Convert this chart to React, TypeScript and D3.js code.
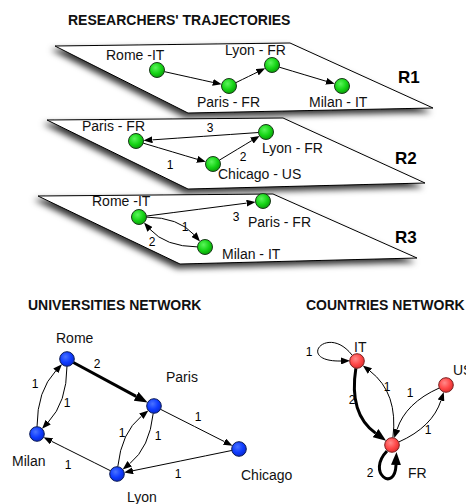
import React from "react";
import * as d3 from "d3";

// ---------- DATA ----------
const TITLE_TRAJ = "RESEARCHERS' TRAJECTORIES";
const TITLE_UNIV = "UNIVERSITIES NETWORK";
const TITLE_COUNTRY = "COUNTRIES NETWORK";

const LAYER_NAMES = ["R1", "R2", "R3"];

const R1_NODES = ["Rome -IT", "Paris - FR", "Lyon - FR", "Milan - IT"];
const R1_EDGES: [number, number, string, number][] = [
  [0, 1, "", 1],
  [1, 2, "", 1],
  [2, 3, "", 1],
];
const R2_NODES = ["Paris - FR", "Lyon - FR", "Chicago - US"];
const R2_EDGES: [number, number, string, number][] = [
  [1, 0, "3", 1],
  [0, 2, "1", 1],
  [2, 1, "2", 1],
];
const R3_NODES = ["Rome -IT", "Paris - FR", "Milan - IT"];
const R3_EDGES: [number, number, string, number][] = [
  [0, 1, "3", 1],
  [0, 2, "1", 1],
  [2, 0, "2", 1],
];

const UNIV_NODES = ["Rome", "Paris", "Milan", "Lyon", "Chicago"];
const UNIV_EDGES: [number, number, string, number][] = [
  [0, 1, "2", 2],
  [2, 0, "1", 1],
  [0, 2, "1", 1],
  [1, 4, "1", 1],
  [3, 1, "1", 1],
  [1, 3, "1", 1],
  [3, 2, "1", 1],
  [4, 3, "1", 1],
];

const COUNTRY_NODES = ["IT", "US", "FR"];
const COUNTRY_EDGES: [number, number, string, number][] = [
  [0, 0, "1", 1],
  [0, 2, "2", 2],
  [2, 0, "1", 1],
  [1, 2, "1", 1],
  [2, 1, "1", 1],
  [2, 2, "2", 2],
];

// ---------- LAYOUT ----------
const PLANES = [
  [[55, 46], [290, 43], [433, 108], [188, 113]],
  [[47, 120], [283, 118], [425, 183], [188, 189]],
  [[38, 196], [273, 194], [417, 258], [180, 264]],
];
const PLANE_TAG_POS = [[398, 83], [395, 164], [395, 243]];

const R1_POS = [[157, 70], [229, 86], [272, 65], [342, 86]];
const R1_LBL = [[106, 60], [197, 107], [225, 55], [309, 107]];
const R1_BEND = [0, 0, 0];
const R1_ELBL: number[][] = [[], [], []];

const R2_POS = [[136, 141], [266, 132], [213, 164]];
const R2_LBL = [[82, 131], [262, 153], [218, 179]];
const R2_BEND = [0, 0, 0];
const R2_ELBL = [[210, 128], [170, 165], [243, 157]];

const R3_POS = [[139, 217], [263, 201], [205, 247]];
const R3_LBL = [[92, 206], [248, 227], [222, 259]];
const R3_BEND = [0, -16, -16];
const R3_ELBL = [[236, 217], [185, 227], [152, 242]];

const UNIV_POS = [[67, 359], [154, 406], [37, 434], [117, 474], [239, 449]];
const UNIV_LBL = [[56, 343], [166, 382], [12, 466], [127, 502], [241, 480]];
const UNIV_BEND = [0, -16, -16, 0, -16, -16, 0, 0];
const UNIV_ELBL = [[97, 364], [35, 384], [67, 403], [198, 417], [122, 433], [158, 436], [68, 465], [178, 474]];

const COUNTRY_POS = [[357, 361], [446, 385], [392, 445]];
const COUNTRY_LBL = [[354, 352], [453, 375], [408, 478]];
const COUNTRY_BEND = [0, 28, 26, 18, 18, 0];
const COUNTRY_ELBL = [[309, 352], [352, 400], [387, 387], [410, 393], [428, 430], [370, 473]];

const FONT = "'Liberation Sans', Arial, Helvetica, sans-serif";
const sx = d3.scaleIdentity();
const sy = d3.scaleIdentity();

const THIN = { L: 9, W: 7 };
const THICK = { L: 13, W: 10 };

type P = number[];

function unit(dx: number, dy: number) {
  const l = Math.hypot(dx, dy) || 1;
  return [dx / l, dy / l];
}

function quadEdge(a: P, b: P, bend: number, r: number, L: number) {
  const ax = sx(a[0]), ay = sy(a[1]), bx = sx(b[0]), by = sy(b[1]);
  const mx = (ax + bx) / 2, my = (ay + by) / 2;
  const [nx, ny] = unit(-(by - ay), bx - ax);
  const cx = mx + bend * nx, cy = my + bend * ny;
  const ua = unit(cx - ax, cy - ay);
  const ub = unit(cx - bx, cy - by);
  const p = d3.path();
  p.moveTo(ax + r * ua[0], ay + r * ua[1]);
  p.quadraticCurveTo(cx, cy, bx + (r + L) * ub[0], by + (r + L) * ub[1]);
  return p.toString();
}

function selfLoop(c: P, kind: "left" | "below") {
  const p = d3.path();
  const x = sx(c[0]), y = sy(c[1]);
  if (kind === "left") {
    p.moveTo(x - 5, y - 6);
    p.bezierCurveTo(x - 30, y - 38, x - 62, y + 1, x - 7 - THIN.L, y);
  } else {
    p.moveTo(x - 5, y + 6);
    p.bezierCurveTo(x - 26, y + 28, x + 3, y + 48, x + 4, y + 20);
  }
  return p.toString();
}

function Node({ c, r, grad, stroke }: { c: P; r: number; grad: string; stroke: string }) {
  return <circle cx={sx(c[0])} cy={sy(c[1])} r={r} fill={`url(#${grad})`} stroke={stroke} strokeWidth={1} />;
}

function Graph({
  nodes, edges, pos, lbl, bend, elbl, r, grad, stroke, loops,
}: {
  nodes: string[]; edges: [number, number, string, number][]; pos: number[][]; lbl: number[][];
  bend: number[]; elbl: number[][]; r: number; grad: string; stroke: string; loops?: Record<number, "left" | "below">;
}) {
  return (
    <g>
      {edges.map(([s, t, , w], i) => {
        const thick = w > 1;
        const m = thick ? THICK : THIN;
        const d = s === t ? selfLoop(pos[s], loops ? loops[s] : "left") : quadEdge(pos[s], pos[t], bend[i], r, m.L);
        return (
          <path key={i} d={d} fill="none" stroke="#000" strokeWidth={thick ? 3 : 1}
            markerEnd={`url(#${thick ? "arrThick" : "arrThin"})`} />
        );
      })}
      {nodes.map((n, i) => (
        <Node key={n + i} c={pos[i]} r={r} grad={grad} stroke={stroke} />
      ))}
      {nodes.map((n, i) => (
        <text key={"l" + i} x={lbl[i][0]} y={lbl[i][1]} fontSize={14} fontFamily={FONT} fill="#111">{n}</text>
      ))}
      {edges.map(([, , label], i) =>
        label && elbl[i] && elbl[i].length ? (
          <text key={"e" + i} x={elbl[i][0]} y={elbl[i][1]} dy="0.35em" textAnchor="middle" fontSize={12} fontFamily={FONT} fill="#000">{label}</text>
        ) : null
      )}
    </g>
  );
}

function Plane({ pts, tag, tagPos }: { pts: number[][]; tag: string; tagPos: number[] }) {
  const line = d3.line().x((d: any) => sx(d[0])).y((d: any) => sy(d[1]));
  return (
    <g>
      <path d={line(pts as any) + "Z"} fill="#fff" stroke="#000" strokeWidth={1} filter="url(#shadow)" />
      <text x={tagPos[0]} y={tagPos[1]} fontSize={17} fontWeight="bold" fontFamily={FONT} fill="#000">{tag}</text>
    </g>
  );
}

const LAYERS = [
  { nodes: R1_NODES, edges: R1_EDGES, pos: R1_POS, lbl: R1_LBL, bend: R1_BEND, elbl: R1_ELBL },
  { nodes: R2_NODES, edges: R2_EDGES, pos: R2_POS, lbl: R2_LBL, bend: R2_BEND, elbl: R2_ELBL },
  { nodes: R3_NODES, edges: R3_EDGES, pos: R3_POS, lbl: R3_LBL, bend: R3_BEND, elbl: R3_ELBL },
];

export default function App() {
  return (
    <svg width={466} height={504} style={{ position: "absolute", left: 0, top: 0, background: "#fff" }}>
      <defs>
        <filter id="shadow" x="-20%" y="-30%" width="140%" height="170%">
          <feDropShadow dx={-3} dy={4} stdDeviation={3} floodColor="#000" floodOpacity={0.8} />
        </filter>
        <radialGradient id="gGreen" cx="40%" cy="35%" r="65%">
          <stop offset="0%" stopColor="#5cf55c" />
          <stop offset="60%" stopColor="#16d416" />
          <stop offset="100%" stopColor="#0aa00a" />
        </radialGradient>
        <radialGradient id="gBlue" cx="40%" cy="35%" r="65%">
          <stop offset="0%" stopColor="#4a73ff" />
          <stop offset="60%" stopColor="#0f3cff" />
          <stop offset="100%" stopColor="#0a2ad0" />
        </radialGradient>
        <radialGradient id="gRed" cx="40%" cy="35%" r="65%">
          <stop offset="0%" stopColor="#ff8a8a" />
          <stop offset="60%" stopColor="#ff4848" />
          <stop offset="100%" stopColor="#e03030" />
        </radialGradient>
        <marker id="arrThin" markerUnits="userSpaceOnUse" markerWidth={THIN.L} markerHeight={THIN.W}
          viewBox={`0 ${-THIN.W / 2} ${THIN.L} ${THIN.W}`} refX={0} refY={0} orient="auto">
          <path d={`M0,${-THIN.W / 2}L${THIN.L},0L0,${THIN.W / 2}Z`} fill="#000" />
        </marker>
        <marker id="arrThick" markerUnits="userSpaceOnUse" markerWidth={THICK.L} markerHeight={THICK.W}
          viewBox={`0 ${-THICK.W / 2} ${THICK.L} ${THICK.W}`} refX={0} refY={0} orient="auto">
          <path d={`M0,${-THICK.W / 2}L${THICK.L},0L0,${THICK.W / 2}Z`} fill="#000" />
        </marker>
      </defs>

      <text x={68} y={25} fontSize={14} fontWeight="bold" fontFamily={FONT} fill="#111">{TITLE_TRAJ}</text>

      {LAYERS.map((ly, i) => (
        <g key={i}>
          <Plane pts={PLANES[i]} tag={LAYER_NAMES[i]} tagPos={PLANE_TAG_POS[i]} />
          <Graph nodes={ly.nodes} edges={ly.edges} pos={ly.pos} lbl={ly.lbl} bend={ly.bend} elbl={ly.elbl}
            r={7.5} grad="gGreen" stroke="#1a3a1a" />
        </g>
      ))}

      <text x={28} y={310} fontSize={14} fontWeight="bold" fontFamily={FONT} fill="#111">{TITLE_UNIV}</text>
      <Graph nodes={UNIV_NODES} edges={UNIV_EDGES} pos={UNIV_POS} lbl={UNIV_LBL} bend={UNIV_BEND} elbl={UNIV_ELBL}
        r={7.3} grad="gBlue" stroke="#0a1a55" />

      <text x={306} y={310} fontSize={14} fontWeight="bold" fontFamily={FONT} fill="#111">{TITLE_COUNTRY}</text>
      <Graph nodes={COUNTRY_NODES} edges={COUNTRY_EDGES} pos={COUNTRY_POS} lbl={COUNTRY_LBL} bend={COUNTRY_BEND}
        elbl={COUNTRY_ELBL} r={7.3} grad="gRed" stroke="#7a2020" loops={{ 0: "left", 2: "below" }} />
    </svg>
  );
}
